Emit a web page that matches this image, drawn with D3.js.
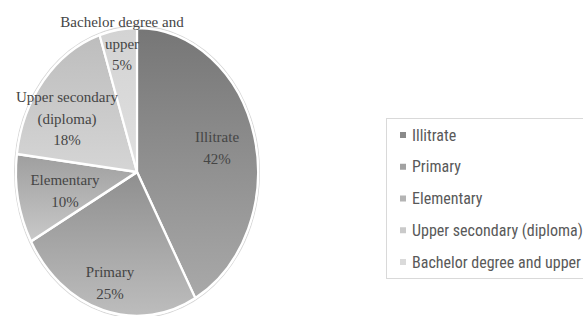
<!DOCTYPE html>
<html><head><meta charset="utf-8">
<script src="https://cdn.jsdelivr.net/npm/d3@7"></script>
<style>body{margin:0;background:#fff}svg{display:block}</style>
</head><body>
<svg id="c" width="583" height="316"></svg>
<script>
const categories = ["Illitrate","Primary","Elementary","Upper secondary (diploma)","Bachelor degree and upper"];
const values = [42,25,10,18,5];
const sliceLabels = [["Illitrate","42%"],["Primary","25%"],["Elementary","10%"],["Upper secondary","(diploma)","18%"],["Bachelor degree and","upper","5%"]];
const gradTop = ["#767676","#8f8f8f","#9e9e9e","#bdbdbd","#d3d3d3"];
const gradBot = ["#a9a9a9","#bdbdbd","#c9c9c9","#d5d5d5","#e0e0e0"];
const swatch = ["#8a8a8a","#a2a2a2","#b4b4b4","#cacaca","#dadada"];

const svg = d3.select("#c");
const defs = svg.append("defs");
gradTop.forEach((t,i)=>{
  const g = defs.append("linearGradient").attr("id","g"+i).attr("x1",0).attr("y1",0).attr("x2",0).attr("y2",1);
  g.append("stop").attr("offset","0%").attr("stop-color",t);
  g.append("stop").attr("offset","100%").attr("stop-color",gradBot[i]);
});

const cx = 137, cy = 172, rx = 121, ry = 144;
const pie = d3.pie().sort(null).value(d=>d)(values);
const arc = d3.arc().innerRadius(0).outerRadius(rx);
const gp = svg.append("g").attr("transform",`translate(${cx},${cy}) scale(1,${ry/rx})`);
gp.append("ellipse").attr("cx",0).attr("cy",0).attr("rx",rx+1.5).attr("ry",rx+1.5)
  .attr("fill","none").attr("stroke","#d8d8d8").attr("stroke-width",1);
gp.selectAll("path").data(pie).join("path")
  .attr("d",arc).attr("fill",(d,i)=>`url(#g${i})`)
  .attr("stroke","#fff").attr("stroke-width",2.2).attr("stroke-linejoin","round");

const labelPos = [[217,142],[110,277],[65,185],[67,102],[122,27]];
labelPos.forEach((p,i)=>{
  const t = svg.append("text").attr("x",p[0]).attr("y",p[1])
    .attr("text-anchor","middle").attr("font-family","'Liberation Serif','Times New Roman',serif")
    .attr("font-size",15).attr("fill","#454545");
  sliceLabels[i].forEach((s,j)=>t.append("tspan").attr("x",p[0]).attr("dy",j===0?0:21.5).text(s));
});

svg.append("rect").attr("x",386.5).attr("y",118.5).attr("width",210).attr("height",160)
  .attr("fill","#fff").attr("stroke","#d9d9d9");
const ly = d3.scalePoint().domain(categories).range([135,262]);
const lg = svg.selectAll("g.leg").data(categories).join("g").attr("class","leg")
  .attr("transform",d=>`translate(400,${ly(d)})`);
lg.append("rect").attr("x",0).attr("y",-3).attr("width",6).attr("height",6).attr("fill",(d,i)=>swatch[i]);
lg.append("text").attr("x",12).attr("y",5.5).attr("font-family","'Liberation Sans Narrow','Roboto Condensed',Roboto,sans-serif")
  .attr("font-size",16).attr("fill","#595959").text(d=>d);
</script>
</body></html>
